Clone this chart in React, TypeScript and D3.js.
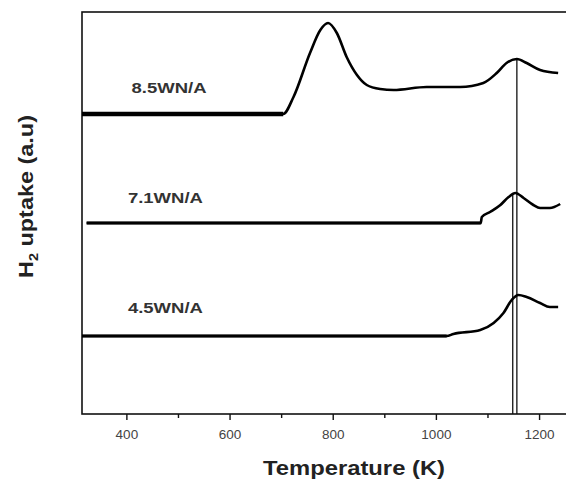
import React from "react";
import * as d3 from "d3";

const W = 566;
const H = 480;

// X axis ticks (Temperature, K)
const majorTicks = [400, 600, 800, 1000, 1200];
const minorTicks = [500, 700, 900, 1100];

// Series: 8.5WN/A
const t85 = [313, 703, 723, 755, 775, 790, 807, 826, 846, 865, 891, 917, 981, 1046, 1091, 1117, 1136, 1156, 1175, 1201, 1236];
const v85 = [300, 300, 317, 361, 384, 391, 381, 357, 339, 329, 325, 324, 327, 327, 331, 341, 351, 355, 351, 344, 341];

// Series: 7.1WN/A
const t71 = [322, 1086, 1088, 1104, 1124, 1140, 1153, 1169, 1188, 1201, 1220, 1240];
const v71 = [191, 191, 197, 202, 209, 217, 221, 216, 209, 206, 206, 210];

// Series: 4.5WN/A
const t45 = [313, 1020, 1033, 1085, 1111, 1130, 1146, 1159, 1175, 1201, 1220, 1236];
const v45 = [78, 78, 80, 84, 91, 101, 114, 119, 117, 111, 107, 107];

const seriesNames = ["8.5WN/A", "7.1WN/A", "4.5WN/A"];
// label anchor positions in data units (temperature, uptake)
const labelT = [409, 402, 402];
const labelV = [321, 211, 101];

// Vertical marker lines: temperature, top uptake value
const markerT = [1156, 1148];
const markerTop = [355, 221];

export default function App() {
  const left = 82, right = 570, top = 12, bottom = 414;
  const x = d3.scaleLinear().domain([313, 1259]).range([left, right]);
  const y = d3.scaleLinear().domain([0, 402]).range([bottom, top]);

  const line = d3
    .line<[number, number]>()
    .x((d) => x(d[0]))
    .y((d) => y(d[1]))
    .curve(d3.curveMonotoneX);

  const zip = (a: number[], b: number[]) => a.map((t, i) => [t, b[i]] as [number, number]);
  const series = [zip(t85, v85), zip(t71, v71), zip(t45, v45)];
  const widths = [2.6, 2.6, 2.6];
  const baseWidths = [4.5, 2.8, 3];

  return (
    <svg
      width={W}
      height={H}
      style={{ position: "fixed", left: 0, top: 0, background: "#fff" }}
      fontFamily="Liberation Sans, Arial, sans-serif"
    >
      <rect x={0} y={0} width={W} height={H} fill="#fff" />
      {/* frame */}
      <rect x={left} y={top} width={right - left} height={bottom - top} fill="none" stroke="#111" strokeWidth={1.6} />
      {/* ticks */}
      {majorTicks.map((t) => (
        <g key={"M" + t}>
          <line x1={x(t)} x2={x(t)} y1={bottom} y2={bottom + 6} stroke="#111" strokeWidth={1.4} />
          <text x={x(t)} y={438.5} textAnchor="middle" fontSize={13.5} fill="#444">
            {t}
          </text>
        </g>
      ))}
      {minorTicks.map((t) => (
        <line key={"m" + t} x1={x(t)} x2={x(t)} y1={bottom} y2={bottom + 4} stroke="#111" strokeWidth={1.4} />
      ))}
      {/* marker lines */}
      {markerT.map((t, i) => (
        <line key={"v" + i} x1={x(t)} x2={x(t)} y1={y(markerTop[i])} y2={bottom} stroke="#111" strokeWidth={1.3} />
      ))}
      {/* curves */}
      {series.map((s, i) => (
        <g key={i}>
          <path d={line(s) || ""} fill="none" stroke="#000" strokeWidth={widths[i]} strokeLinejoin="round" />
          <path d={line(s.slice(0, 2)) || ""} fill="none" stroke="#000" strokeWidth={baseWidths[i]} />
        </g>
      ))}
      {/* series labels */}
      {seriesNames.map((n, i) => (
        <text
          key={n}
          x={x(labelT[i])}
          y={y(labelV[i])}
          fontSize={14}
          fontWeight="bold"
          fill="#333"
          textLength={75}
          lengthAdjust="spacingAndGlyphs"
        >
          {n}
        </text>
      ))}
      {/* axis titles */}
      <text x={263} y={475} fontSize={21} fontWeight="bold" fill="#222" textLength={182} lengthAdjust="spacingAndGlyphs">
        Temperature (K)
      </text>
      <text
        transform="translate(33,278) rotate(-90)"
        fontSize={21}
        fontWeight="bold"
        fill="#222"
        textLength={163}
        lengthAdjust="spacingAndGlyphs"
      >
        <tspan>H</tspan>
        <tspan fontSize={13} dy={5}>2</tspan>
        <tspan dy={-5}> uptake (a.u)</tspan>
      </text>
    </svg>
  );
}
